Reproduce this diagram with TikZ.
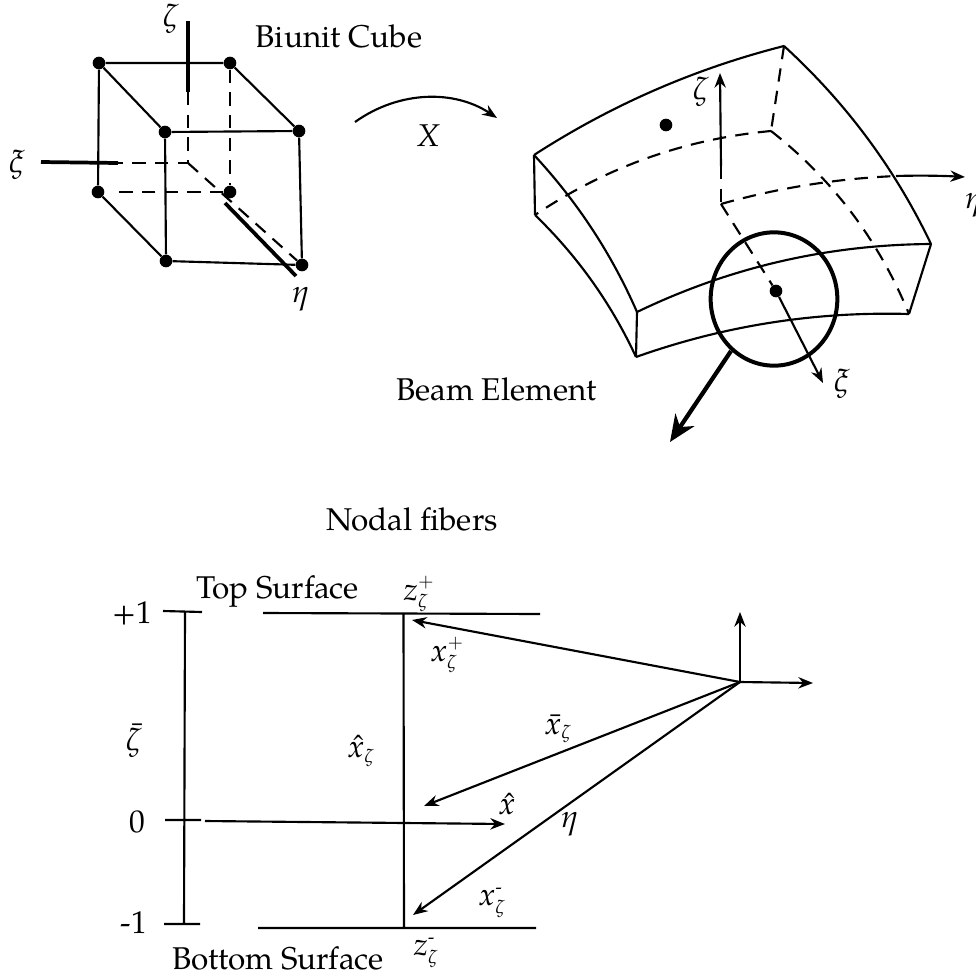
\documentclass[tikz,border=0pt]{standalone}
\usepackage{mathpazo}
\usepackage{fontspec}
\setmainfont{TeX Gyre Pagella}
\DeclareMathSizes{23.6}{23.6}{14}{11}
\usetikzlibrary{arrows.meta,shapes.geometric,calc}
\newcommand{\qc}[3]{(#1) .. controls ($(#1)!.667!(#2)$) and ($(#3)!.667!(#2)$) .. (#3)}
\newcommand{\smallminus}{\hbox{\fontsize{14pt}{14pt}\selectfont -}}
\tikzset{
 x=0.75pt,y=-0.75pt,
 ln/.style={line width=1.6pt,black},
 dsh/.style={ln,dash pattern=on 10pt off 7pt},
 thk/.style={line width=2.8pt,black},
 arr/.style={ln,-{Stealth[length=11pt,width=8.5pt]}},
 bigarr/.style={line width=3.2pt,black,-{Stealth[length=20pt,width=17pt]}},
 dot/.style={circle,fill=black,inner sep=0pt,minimum size=9.5pt},
 lab/.style={inner sep=0pt,font=\fontsize{23.6pt}{26pt}\selectfont},
}
\begin{document}
\begin{tikzpicture}
\useasboundingbox (0,0) rectangle (975,975);
% ---- cube
\node[dot] (A) at (99,63) {};
\node[dot] (B) at (230,63) {};
\node[dot] (C) at (165,132) {};
\node[dot] (D) at (299,131) {};
\node[dot] (E) at (98,192) {};
\node[dot] (F) at (230,192) {};
\node[dot] (G) at (166,261) {};
\node[dot] (H) at (302,265) {};
\coordinate (O) at (188,163);
\coordinate (Zt) at (188,21);
\coordinate (Zm) at (188,92);
\coordinate (Xt) at (41,162);
\coordinate (Xm) at (118,163);
\coordinate (Et) at (225,203);
\coordinate (Ee) at (296,276);
\draw[ln] (A)--(B) (A)--(C) (B)--(D) (C)--(D) (A)--(E) (C)--(G) (D)--(H) (E)--(G) (G)--(H);
\draw[dsh] (B)--(F);
\draw[dsh,shorten >=6pt] (F)--(E);
\draw[dsh] (Zm)--(O)--(Xm);
\draw[dsh] (O)--(H);
\draw[thk] (Zt)--(Zm);
\draw[thk] (Xt)--(Xm);
\draw[thk] (Et)--(Ee);
\node[lab] (lz1) at (171,19) {$\zeta$};
\node[lab] (lx1) at (17,165) {$\xi$};
\node[lab] (le1) at (301,299) {$\eta$};
\node[lab] (biunit) at (339,36) {Biunit Cube};
% ---- map arrow
\coordinate (Ma) at (355,122);
\coordinate (Mb) at (497,118);
\draw[arr] (Ma) .. controls (400,90) and (455,90) .. (Mb);
\node[lab] (lX) at (428,136) {$X$};
% ---- beam
\coordinate (P1) at (534,155);
\coordinate (P2) at (784,46);
\coordinate (P3) at (931,244);
\coordinate (P4) at (637,312);
\coordinate (P5) at (535,215);
\coordinate (P6) at (636,357);
\coordinate (P7) at (909,314);
\coordinate (Q) at (771,131);
\coordinate (R) at (721,204);
\coordinate (S) at (896,176);
\coordinate (Se) at (965,177);
\coordinate (Zb) at (721,166);
\coordinate (Zh) at (720,73);
\coordinate (Xh) at (823,383);
\coordinate (Ba) at (731,351);
\coordinate (Bb) at (670,442);
\coordinate (c12) at (650,80);
\coordinate (c23) at (877,131);
\coordinate (c14) at (599,225);
\coordinate (c56) at (599,277);
\coordinate (c43) at (776,245);
\coordinate (c67) at (768,310);
\coordinate (cq5) at (642,143);
\coordinate (cq7) at (864,204);
\coordinate (crs) at (806,180);
\coordinate (cse) at (930,175);
\node[dot] (n1) at (666,125) {};
\node[dot] (n2) at (776,291) {};
\draw[ln] \qc{P1}{c12}{P2};
\draw[ln] \qc{P2}{c23}{P3};
\draw[ln] \qc{P1}{c14}{P4};
\draw[ln] \qc{P5}{c56}{P6};
\draw[ln] \qc{P4}{c43}{P3};
\draw[ln] \qc{P6}{c67}{P7};
\draw[ln] (P1)--(P5) (P4)--(P6) (P3)--(P7);
\draw[dsh] (P2)--(Q);
\draw[dsh] \qc{Q}{cq5}{P5};
\draw[dsh] \qc{Q}{cq7}{P7};
\draw[dsh] (Zb)--(R);
\draw[dsh] \qc{R}{crs}{S};
\draw[dsh] (R)--(n2);
\draw[arr] \qc{S}{cse}{Se};
\draw[arr] (Zb)--(Zh);
\draw[arr] (n2)--(Xh);
\node[draw,line width=3pt,ellipse,inner sep=0pt,minimum width=95pt,minimum height=100pt] (circ) at (774,299) {};
\draw[bigarr] (Ba)--(Bb);
\node[lab] (lz2) at (701,92) {$\zeta$};
\node[lab] (lx2) at (842,384) {$\xi$};
\node[lab] (le2) at (974,205) {$\eta$};
\node[lab] (beam) at (496.5,389) {Beam Element};
\node[lab] (nodal) at (412,519) {Nodal fibers};
% ---- lower diagram
\coordinate (Ta) at (163,611);
\coordinate (Tb) at (202,612);
\coordinate (Va) at (185,612);
\coordinate (Vb) at (184,924);
\coordinate (Ma0) at (165,820);
\coordinate (Mb0) at (201,820);
\coordinate (La) at (164,924);
\coordinate (Lb) at (200,924);
\coordinate (Sa) at (263,613);
\coordinate (Sb) at (540,614);
\coordinate (Ua) at (258,928);
\coordinate (Ub) at (536,928);
\coordinate (Wa) at (403.5,613.5);
\coordinate (Wb) at (404,928);
\coordinate (Xa) at (205,821);
\coordinate (Xb) at (505,824);
\coordinate (Or) at (740,682);
\coordinate (Ay) at (740,612);
\coordinate (Ax) at (813,683);
\coordinate (Tp) at (412,620);
\coordinate (Mp) at (424,806);
\coordinate (Bp) at (413,915);
\draw[ln] (Ta)--(Tb) (Va)--(Vb) (Ma0)--(Mb0) (La)--(Lb) (Sa)--(Sb) (Ua)--(Ub) (Wa)--(Wb);
\draw[arr] (Xa)--(Xb);
\draw[arr] (Or)--(Ay);
\draw[arr] (Or)--(Ax);
\draw[arr] (Or)--(Tp);
\draw[arr] (Or)--(Mp);
\draw[arr] (Or)--(Bp);
\node[lab] (p1) at (132,613) {+1};
\node[lab] (z0) at (137.5,822) {0};
\node[lab] (m1) at (134,923) {-1};
\node[lab] (zb) at (134,741) {$\bar\zeta$};
\node[lab] (ts) at (277.5,591) {Top Surface};
\node[lab] (bs) at (278,958) {Bottom Surface};
\node[lab] (zp) at (419,594) {$z_\zeta^+$};
\node[lab] (xp) at (447,655) {$x_\zeta^+$};
\node[lab] (xh) at (361,751) {$\hat x_\zeta$};
\node[lab] (xx) at (507,804) {$\hat x$};
\node[lab] (xbar) at (558,729) {$\bar x_\zeta$};
\node[lab] (e3) at (570,824) {$\eta$};
\node[lab] (xm) at (492,903) {$x_\zeta^{\smallminus}$};
\node[lab] (zm) at (426,953) {$z_\zeta^{\smallminus}$};
\end{tikzpicture}
\end{document}
